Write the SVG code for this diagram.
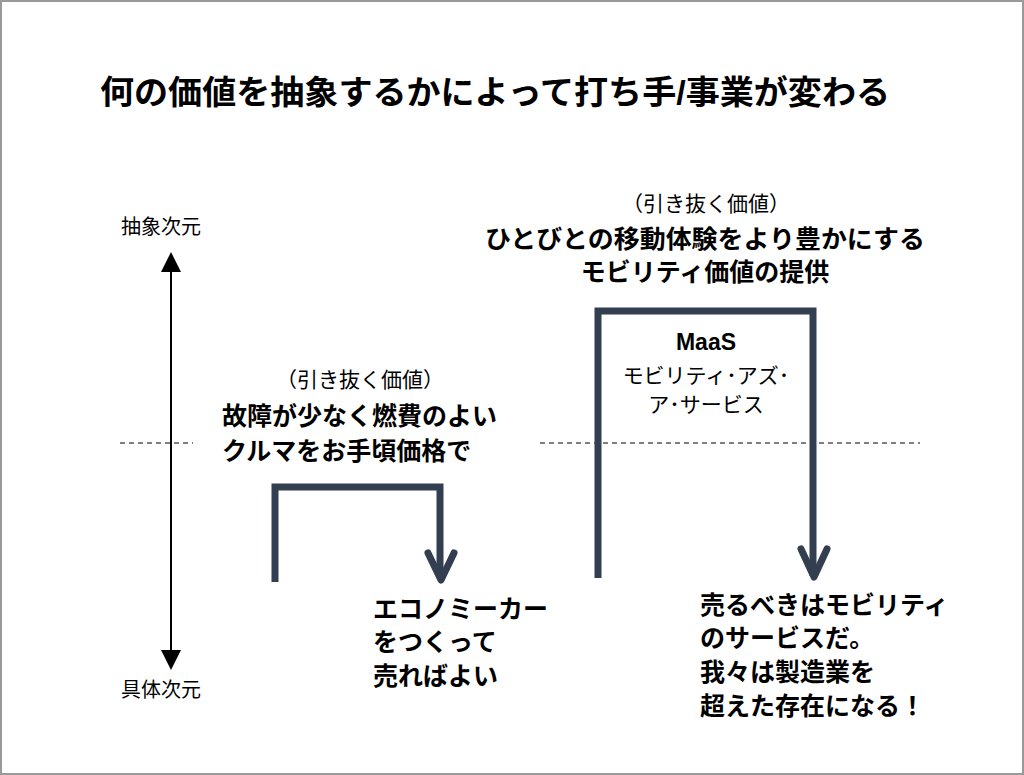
<svg xmlns="http://www.w3.org/2000/svg" width="1024" height="775" viewBox="0 0 1024 775">
<style>
text{font-family:"Liberation Sans","Noto Sans CJK JP",sans-serif;fill:#000}
.t{font-size:33px;font-weight:bold}
.b{font-size:25px;font-weight:bold}
.n{font-size:20px}
.s{font-size:21px}
.bar{fill:none;stroke:#333f50;stroke-width:7;stroke-linecap:butt}
.head{fill:none;stroke:#333f50;stroke-width:7;stroke-linecap:round;stroke-linejoin:round}
.dash{stroke:#000;stroke-width:1;stroke-dasharray:5,4}
</style>
<defs>
<marker id="ah" viewBox="0 0 10 10" refX="5" refY="5" markerWidth="10" markerHeight="10" orient="auto-start-reverse"><path d="M0,0L10,5L0,10z" fill="#000"/></marker>
</defs>
<rect x="1" y="1" width="1022" height="773" fill="#fff" stroke="#999" stroke-width="2"/>
<text class="t" x="100" y="104" textLength="790" lengthAdjust="spacingAndGlyphs">何の価値を抽象するかによって打ち手/事業が変わる</text>
<g id="axis">
<text class="n" x="121" y="234">抽象次元</text>
<text class="n" x="121" y="697">具体次元</text>
<line x1="171" y1="262" x2="171" y2="660" stroke="#000" stroke-width="2" marker-start="url(#ah)" marker-end="url(#ah)"/>
</g>
<g id="dashes">
<line class="dash" x1="120" y1="443" x2="193" y2="443"/>
<line class="dash" x1="540" y1="443" x2="920" y2="443"/>
</g>
<g id="connectors">
<path class="bar" d="M275,582V487H440V578"/>
<path class="head" d="M428,553L441,580L454,553"/>
<path class="bar" d="M598,578V311H813V576"/>
<path class="head" d="M801,549L814,577L827,549"/>
</g>
<g id="left-value">
<text class="s" x="360" y="387" text-anchor="middle">（引き抜く価値）</text>
<text class="b" x="222" y="425">故障が少なく燃費のよい</text>
<text class="b" x="222" y="460">クルマをお手頃価格で</text>
</g>
<g id="right-value">
<text class="s" x="706" y="211" text-anchor="middle">（引き抜く価値）</text>
<text class="b" x="705" y="248" text-anchor="middle" textLength="440" lengthAdjust="spacingAndGlyphs">ひとびとの移動体験をより豊かにする</text>
<text class="b" x="705" y="281" text-anchor="middle">モビリティ価値の提供</text>
</g>
<g id="maas">
<text x="706" y="350" text-anchor="middle" style="font-size:23px;font-weight:bold">MaaS</text>
<text class="s" x="706" y="383" text-anchor="middle">モビリティ･アズ･</text>
<text class="s" x="706" y="412" text-anchor="middle">ア･サービス</text>
</g>
<g id="economy">
<text class="b" x="373" y="618">エコノミーカー</text>
<text class="b" x="373" y="651">をつくって</text>
<text class="b" x="373" y="685">売ればよい</text>
</g>
<g id="mobility">
<text class="b" x="700" y="614">売るべきはモビリティ</text>
<text class="b" x="700" y="647">のサービスだ。</text>
<text class="b" x="700" y="681">我々は製造業を</text>
<text class="b" x="700" y="715">超えた存在になる！</text>
</g>
</svg>
